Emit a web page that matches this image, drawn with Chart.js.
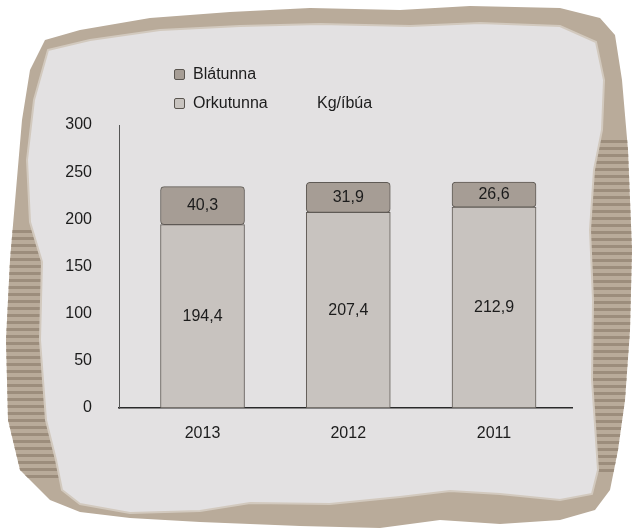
<!DOCTYPE html>
<html>
<head>
<meta charset="utf-8">
<script src="https://cdn.jsdelivr.net/npm/chart.js@4.4.1/dist/chart.umd.min.js"></script>
<style>
  body { margin: 0; background: #fff; }
  #wrap { position: relative; width: 635px; height: 529px; }
  .leg { position: absolute; font: 16px "Liberation Sans", Arial, sans-serif; color: #1c1c1c; line-height: 18px; }
  .sw { display: inline-block; width: 9px; height: 9px; border: 1px solid #5a5550; border-radius: 2px; margin-right: 8px; vertical-align: -1px; }
</style>
</head>
<body>
<div id="wrap">
  <canvas id="myChart"></canvas>
  <div class="leg" style="left:174px; top:65px;"><span class="sw" id="sw0"></span><span id="lab0"></span></div>
  <div class="leg" style="left:174px; top:94px;"><span class="sw" id="sw1"></span><span id="lab1"></span></div>
  <div class="leg" style="left:317px; top:94px;" id="unit"></div>
</div>
<script>
// data
var years = ["2013", "2012", "2011"];
var orkutunna = [194.4, 207.4, 212.9];
var blatunna = [40.3, 31.9, 26.6];
var yTicks = [0, 50, 100, 150, 200, 250, 300];
var unitLabel = "Kg/íbúa";

var colOrku = "#c8c3bf";
var colBla = "#a69d95";
var fontFam = '"Liberation Sans", Arial, sans-serif';

document.getElementById("sw0").style.background = colBla;
document.getElementById("lab0").textContent = "Blátunna";
document.getElementById("sw1").style.background = colOrku;
document.getElementById("lab1").textContent = "Orkutunna";
document.getElementById("unit").textContent = unitLabel;

// torn cardboard behind the chart
var cardOuter = [[45,40],[80,30],[150,18],[230,12],[310,8],[400,10],[470,6],[560,8],[600,18],[615,35],[622,80],[628,150],[632,250],[630,330],[625,400],[618,450],[610,490],[595,510],[560,520],[500,524],[440,520],[380,528],[300,526],[200,522],[130,518],[80,512],[50,500],[20,470],[8,420],[6,340],[10,260],[16,190],[22,120],[30,70]];
var paper = [[48,50],[90,40],[160,30],[240,26],[320,24],[410,26],[480,23],[560,26],[596,42],[604,80],[602,130],[594,170],[590,230],[593,300],[592,380],[596,440],[598,470],[592,494],[560,500],[500,494],[450,491],[400,497],[330,504],[250,503],[200,511],[130,513],[80,504],[62,490],[56,460],[46,420],[40,340],[42,262],[30,222],[27,160],[34,100]];

function pathOf(ctx, pts) {
  ctx.beginPath();
  ctx.moveTo(pts[0][0], pts[0][1]);
  for (var i = 1; i < pts.length; i++) ctx.lineTo(pts[i][0], pts[i][1]);
  ctx.closePath();
}

var backdrop = {
  id: "backdrop",
  beforeDraw: function (chart) {
    var ctx = chart.ctx;
    ctx.save();
    pathOf(ctx, cardOuter);
    ctx.fillStyle = "#b9ab9a";
    ctx.fill();
    ctx.clip();
    // corrugation
    ctx.fillStyle = "#9c8d7c";
    for (var y = 230; y < 480; y += 7) {
      ctx.fillRect(0, y, 60, 3);
    }
    for (var y2 = 140; y2 < 470; y2 += 7) {
      ctx.fillRect(585, y2, 50, 3);
    }
    ctx.restore();
    ctx.save();
    pathOf(ctx, paper);
    ctx.fillStyle = "#e3e1e2";
    ctx.fill();
    ctx.lineWidth = 2;
    ctx.strokeStyle = "#d2c9be";
    ctx.stroke();
    ctx.restore();
  }
};

var barLabels = {
  id: "barLabels",
  afterDatasetsDraw: function (chart) {
    var ctx = chart.ctx;
    ctx.save();
    ctx.font = "16px " + fontFam;
    ctx.fillStyle = "#1c1c1c";
    ctx.textAlign = "center";
    ctx.textBaseline = "middle";
    chart.data.datasets.forEach(function (ds, di) {
      chart.getDatasetMeta(di).data.forEach(function (bar, i) {
        var v = ds.data[i].y;
        ctx.fillText(v.toFixed(1).replace(".", ","), bar.x, (bar.y + bar.base) / 2);
      });
    });
    ctx.restore();
  }
};

function pts(arr) {
  return arr.map(function (v, i) { return { x: i, y: v }; });
}

var ctx = document.getElementById("myChart").getContext("2d");
var myChart = new Chart(ctx, {
  type: "bar",
  data: {
    datasets: [
      {
        label: "Orkutunna",
        data: pts(orkutunna),
        backgroundColor: colOrku,
        borderColor: "#5f5a55",
        borderWidth: 1,
        borderRadius: 4,
        borderSkipped: false,
        barThickness: 84,
      },
      {
        label: "Blátunna",
        data: pts(blatunna),
        backgroundColor: colBla,
        borderColor: "#5f5a55",
        borderWidth: 1,
        borderRadius: 4,
        borderSkipped: false,
        barThickness: 84,
      },
    ],
  },
  options: {
    responsive: true,
    maintainAspectRatio: false,
    animation: false,
    layout: { padding: { top: 125, right: 63, left: 0, bottom: 0 } },
    plugins: {
      legend: { display: false },
      tooltip: { enabled: false },
    },
    scales: {
      x: {
        type: "linear",
        stacked: true,
        offset: false,
        min: -0.573,
        max: 2.535,
        grid: { display: false },
        border: { color: "#2a2a2a", width: 1.5 },
        afterBuildTicks: function (s) {
          s.ticks = years.map(function (c, i) { return { value: i }; });
        },
        afterFit: function (s) { s.height = 121; },
        ticks: {
          padding: 8,
          color: "#1c1c1c",
          font: { family: fontFam, size: 16 },
          callback: function (v) { return years[v]; },
        },
      },
      y: {
        stacked: true,
        min: 0,
        max: 300,
        grid: { display: false },
        border: { color: "#555", width: 1 },
        afterBuildTicks: function (s) {
          s.ticks = yTicks.map(function (t) { return { value: t }; });
        },
        afterFit: function (s) { s.width = 119; },
        ticks: {
          padding: 19,
          color: "#1c1c1c",
          font: { family: fontFam, size: 16 },
        },
      },
    },
  },
  plugins: [backdrop, barLabels],
});
</script>
</body>
</html>
